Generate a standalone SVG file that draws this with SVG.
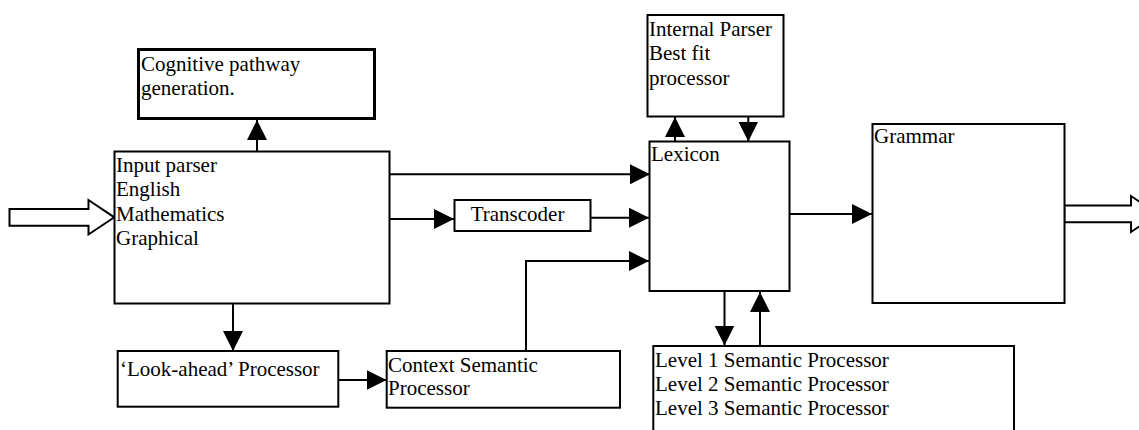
<svg xmlns="http://www.w3.org/2000/svg" width="1139" height="430" viewBox="0 0 1139 430">
  <style>
    .box { fill: #fff; stroke: #000; stroke-width: 2; }
    .thick { stroke-width: 3; }
    .lbl { font-family: "Liberation Serif", "Times New Roman", serif; font-size: 21px; fill: #000; }
    .edge { fill: none; stroke: #000; stroke-width: 2; }
    .hollow { fill: #fff; stroke: #000; stroke-width: 2; stroke-linejoin: miter; }
  </style>
  <defs>
    <marker id="tri" markerUnits="userSpaceOnUse" markerWidth="20" markerHeight="20" refX="20" refY="10" orient="auto" viewBox="0 0 20 20">
      <path d="M0,0 L20,10 L0,20 z" fill="#000"/>
    </marker>
  </defs>

  <rect width="1139" height="430" fill="#fff"/>

  <g id="connectors">
    <path class="edge" d="M257,151.5 V120" marker-end="url(#tri)"/>
    <path class="edge" d="M389.5,174.3 H650" marker-end="url(#tri)"/>
    <path class="edge" d="M389.5,219 H454" marker-end="url(#tri)"/>
    <path class="edge" d="M590.5,217.7 H649" marker-end="url(#tri)"/>
    <path class="edge" d="M526,351 V261 H649" marker-end="url(#tri)"/>
    <path class="edge" d="M675,141.5 V117" marker-end="url(#tri)"/>
    <path class="edge" d="M748.3,112 V141.5" marker-end="url(#tri)"/>
    <path class="edge" d="M789.5,214 H872" marker-end="url(#tri)"/>
    <path class="edge" d="M724.5,291 V345.5" marker-end="url(#tri)"/>
    <path class="edge" d="M760,346 V292" marker-end="url(#tri)"/>
    <path class="edge" d="M233,303.5 V351" marker-end="url(#tri)"/>
    <path class="edge" d="M338.5,380 H386.5" marker-end="url(#tri)"/>
    <polygon class="hollow" points="9.5,209 88.5,209 88.5,200 114.3,217.3 88.5,234.5 88.5,225.7 9.5,225.7"/>
    <polygon class="hollow" points="1064.3,205.5 1131,205.5 1131,196 1158,214 1131,232 1131,222.3 1064.3,222.3"/>
  </g>

  <g id="cognitive">
    <rect class="box thick" x="138.5" y="49.5" width="236" height="69"/>
    <text class="lbl" x="141" y="70.7">Cognitive pathway</text>
    <text class="lbl" x="141" y="95">generation.</text>
  </g>

  <g id="input-parser">
    <rect class="box" x="114.5" y="151.5" width="275" height="152"/>
    <text class="lbl" x="116" y="171.7">Input parser</text>
    <text class="lbl" x="116" y="196.2">English</text>
    <text class="lbl" x="116" y="220.6">Mathematics</text>
    <text class="lbl" x="116" y="245">Graphical</text>
  </g>

  <g id="internal-parser">
    <rect class="box" x="647.5" y="15" width="136" height="101.5"/>
    <text class="lbl" x="649" y="36">Internal Parser</text>
    <text class="lbl" x="649" y="60.4">Best fit</text>
    <text class="lbl" x="649" y="84.8">processor</text>
  </g>

  <g id="lexicon">
    <rect class="box" x="649.5" y="141.5" width="140" height="149.5"/>
    <text class="lbl" x="651" y="161">Lexicon</text>
  </g>

  <g id="transcoder">
    <rect class="box" x="454.5" y="200" width="136" height="31"/>
    <text class="lbl" x="470.7" y="221">Transcoder</text>
  </g>

  <g id="grammar">
    <rect class="box" x="872.5" y="124" width="192" height="179"/>
    <text class="lbl" x="874" y="143.3">Grammar</text>
  </g>

  <g id="look-ahead">
    <rect class="box" x="117.7" y="351" width="220.6" height="55.7"/>
    <text class="lbl" x="120" y="376">‘Look-ahead’ Processor</text>
  </g>

  <g id="context-semantic">
    <rect class="box" x="386.7" y="351" width="233.3" height="56.7"/>
    <text class="lbl" x="388" y="371.7">Context Semantic</text>
    <text class="lbl" x="388" y="395">Processor</text>
  </g>

  <g id="level-semantic">
    <rect class="box" x="653.3" y="346" width="360.7" height="100"/>
    <text class="lbl" x="655" y="366.7">Level 1 Semantic Processor</text>
    <text class="lbl" x="655" y="391">Level 2 Semantic Processor</text>
    <text class="lbl" x="655" y="415.3">Level 3 Semantic Processor</text>
  </g>
</svg>
